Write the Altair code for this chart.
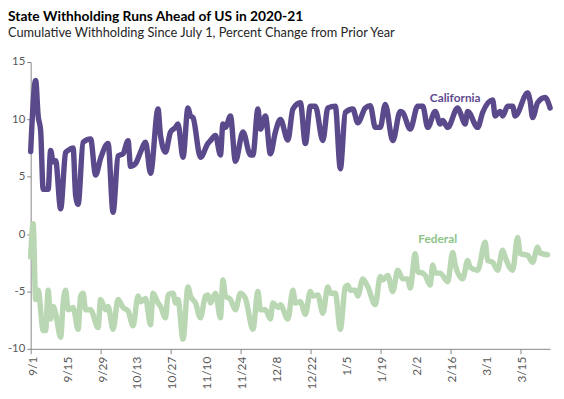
import altair as alt
import pandas as pd

# x positions are category slots counted from 9/1 (one slot per calendar day on the chart's axis)
tick_labels = ["9/1", "9/15", "9/29", "10/13", "10/27", "11/10", "11/24", "12/8",
               "12/22", "1/5", "1/19", "2/2", "2/16", "3/1", "3/15"]

ca_slot = [0, 2, 3, 4, 5, 7, 8, 9, 10, 12, 14, 15, 17, 18, 19, 21, 24, 26, 28, 31,
           33, 35, 37, 39, 40, 42, 44, 46, 48, 51, 52, 54, 56, 58, 59, 61, 63, 64, 65, 68,
           71, 72, 74, 76, 77, 78, 80, 82, 85, 88, 89, 91, 92, 94, 96, 98, 100, 103, 105, 108,
           110, 112, 114, 117, 119, 122, 124, 126, 129, 131, 134, 136, 138, 140, 142, 145, 148, 149, 152, 155,
           157, 159, 162, 164, 165, 167, 171, 172, 174, 175, 179, 181, 185, 186, 188, 189, 191, 193, 194, 199,
           200, 201, 203, 206, 208]
ca_value = [7.2, 13.4, 10.3, 9.0, 3.9, 3.9, 7.3, 6.3, 6.4, 2.2, 7.1, 7.3, 7.5, 3.4, 2.6, 8.0, 8.3, 5.15, 6.6, 7.9,
            1.9, 6.8, 7.0, 8.15, 5.9, 6.15, 7.15, 8.0, 5.3, 10.9, 8.6, 7.15, 8.9, 9.3, 9.6, 6.7, 11.0, 10.3, 10.15, 6.7,
            7.9, 8.15, 8.6, 6.9, 9.6, 9.3, 10.3, 6.35, 8.9, 6.9, 6.9, 10.9, 9.15, 10.3, 7.0, 8.9, 10.0, 8.2, 10.9, 11.45,
            7.9, 11.15, 11.15, 8.15, 11.0, 11.15, 5.7, 10.6, 10.9, 9.7, 11.0, 11.2, 9.3, 9.3, 11.3, 8.15, 10.7, 10.6, 9.15, 11.15,
            11.15, 9.3, 10.7, 9.6, 9.9, 9.3, 11.0, 10.6, 9.6, 10.7, 9.3, 10.6, 11.7, 10.3, 10.7, 10.3, 11.15, 11.15, 10.3, 12.3,
            11.6, 10.15, 11.45, 11.9, 11.0]

fed_slot = [0, 1, 2, 3, 5, 6, 7, 8, 9, 10, 12, 13, 14, 15, 17, 19, 20, 21, 22, 24,
            27, 28, 30, 31, 33, 35, 37, 39, 41, 43, 44, 46, 48, 49, 51, 52, 54, 55, 57, 58,
            59, 61, 63, 64, 66, 68, 70, 71, 72, 74, 76, 77, 78, 80, 82, 84, 86, 89, 91, 92,
            94, 96, 97, 99, 100, 103, 105, 106, 108, 110, 112, 113, 115, 117, 119, 120, 122, 124, 126, 127,
            128, 130, 131, 133, 135, 138, 140, 141, 143, 145, 147, 149, 151, 152, 154, 155, 157, 158, 160, 161,
            162, 164, 167, 169, 170, 173, 175, 176, 179, 182, 183, 185, 187, 189, 190, 193, 195, 196, 199, 201,
            203, 204, 207]
fed_value = [-2.0, 0.9, -5.7, -4.9, -8.4, -8.4, -4.9, -7.4, -6.3, -6.9, -9.0, -6.0, -4.9, -6.6, -6.4, -8.3, -5.4, -5.15, -6.6, -6.6,
             -8.15, -5.7, -6.6, -6.3, -8.3, -5.7, -6.4, -6.7, -8.0, -5.4, -5.9, -5.6, -7.9, -5.15, -6.0, -6.3, -7.3, -5.3, -5.15, -6.0,
             -5.7, -9.15, -4.6, -5.4, -6.0, -7.3, -5.4, -5.3, -6.0, -5.15, -7.3, -4.0, -5.4, -5.7, -6.6, -5.15, -5.6, -8.3, -5.0, -6.6,
             -6.6, -7.4, -6.0, -6.4, -6.15, -7.4, -4.9, -6.0, -5.9, -7.0, -5.0, -5.4, -5.3, -6.9, -4.6, -5.15, -5.15, -8.3, -4.6, -4.45,
             -4.9, -4.9, -5.4, -3.9, -4.6, -6.15, -3.7, -4.0, -3.6, -5.0, -3.15, -3.9, -3.9, -4.7, -1.7, -3.3, -3.4, -3.6, -4.45, -2.7,
             -3.4, -3.4, -4.15, -1.6, -2.7, -3.9, -2.3, -2.9, -3.15, -0.7, -2.3, -2.45, -3.15, -1.4, -2.0, -3.15, -0.3, -1.7, -1.85, -2.45,
             -1.15, -1.65, -1.8]

series_names = ["California", "Federal"]
series_colors = ["#5B4A8B", "#B9D7B2"]
label_colors = ["#5E4B8F", "#8CC487"]
label_slot = [170.0, 163.0]
label_value = [11.85, -0.45]

FONT = "Lato"
Y_MIN, Y_MAX = -10, 15

df = pd.concat([
    pd.DataFrame({"slot": ca_slot, "value": ca_value, "series": series_names[0]}),
    pd.DataFrame({"slot": fed_slot, "value": fed_value, "series": series_names[1]}),
], ignore_index=True)

labels_df = pd.DataFrame({"slot": label_slot, "value": label_value,
                          "text": series_names, "tcolor": label_colors})

tick_vals = [14 * i for i in range(len(tick_labels))]
ticks_df = pd.DataFrame({"slot": tick_vals, "text": tick_labels, "value": Y_MIN})

x_scale = alt.Scale(domain=[0, 208], nice=False, zero=False)
y_scale = alt.Scale(domain=[Y_MIN, Y_MAX], nice=False, zero=False)

x_axis = alt.Axis(values=tick_vals, labels=False,
                  tickSize=5, tickColor="#868686", domainColor="#868686",
                  grid=False, title=None)
y_axis = alt.Axis(values=[-10, -5, 0, 5, 10, 15], tickSize=4, tickColor="#868686",
                  labelExpr="datum.value < 0 ? '-' + abs(datum.value) : '' + datum.value",
                  domainColor="#868686", labelFont=FONT, labelFontSize=11.5,
                  labelColor="#595959", labelPadding=2, grid=False, title=None)

lines = alt.Chart(df).mark_line(strokeWidth=5.5, strokeJoin="round", strokeCap="round",
                                interpolate="monotone").encode(
    x=alt.X("slot:Q", scale=x_scale, axis=x_axis),
    y=alt.Y("value:Q", scale=y_scale, axis=y_axis),
    color=alt.Color("series:N", scale=alt.Scale(domain=series_names, range=series_colors), legend=None),
    detail="series:N",
)

texts = alt.Chart(labels_df).mark_text(font=FONT, fontSize=12, fontWeight="bold").encode(
    x=alt.X("slot:Q", scale=x_scale),
    y=alt.Y("value:Q", scale=y_scale),
    text="text:N",
    color=alt.Color("tcolor:N", scale=None),
)

xlabels = alt.Chart(ticks_df).mark_text(
    font=FONT, fontSize=12, color="#595959", angle=270,
    align="right", baseline="middle", dx=-8, dy=2,
).encode(
    x=alt.X("slot:Q", scale=x_scale),
    y=alt.Y("value:Q", scale=y_scale),
    text="text:N",
)

chart = alt.layer(lines, texts, xlabels).properties(
    width=527,
    height=291,
    autosize=alt.AutoSizeParams(type="none"),
    padding={"left": 23, "top": 52, "right": 6, "bottom": 40},
    title=alt.TitleParams(
        text="State Withholding Runs Ahead of US in 2020-21",
        subtitle="Cumulative Withholding Since July 1, Percent Change from Prior Year",
        anchor="start", frame="group", dx=-23, offset=16,
        font=FONT, fontSize=14, fontWeight="bold", color="#000000",
        subtitleFont=FONT, subtitleFontSize=13, subtitleColor="#262626",
        subtitlePadding=4,
    ),
).configure_view(stroke=None, clip=False)

chart.save("out.html", embed_options={"renderer": "svg", "actions": False})
